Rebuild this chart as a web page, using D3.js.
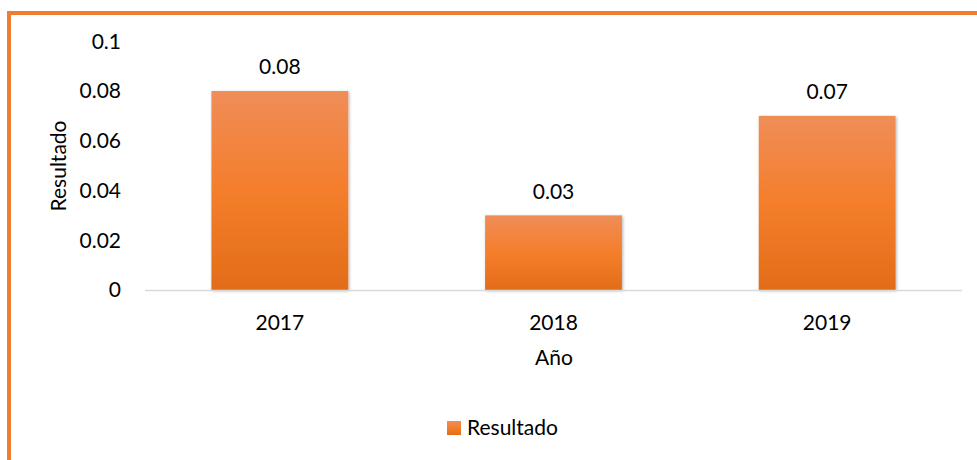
<!DOCTYPE html>
<html><head><meta charset="utf-8">
<script src="https://cdn.jsdelivr.net/npm/d3@7"></script>
<style>body{margin:0;background:#fff}text{font-family:Lato,"Open Sans",sans-serif;fill:#000}</style>
</head><body>
<svg id="c" width="977" height="460"></svg>
<script>
const categories = ["2017","2018","2019"];
const values = [0.08,0.03,0.07];
const yTicks = [0,0.02,0.04,0.06,0.08,0.1];
const yTickLabels = ["0","0.02","0.04","0.06","0.08","0.1"];
const seriesName = "Resultado";
const xTitle = "Año";
const yTitle = "Resultado";

const FS = 21;
const svg = d3.select("#c");
const defs = svg.append("defs");
const g1 = defs.append("linearGradient").attr("id","bg").attr("x1",0).attr("x2",0).attr("y1",0).attr("y2",1);
g1.append("stop").attr("offset","0%").attr("stop-color","#F08D58");
g1.append("stop").attr("offset","50%").attr("stop-color","#F47E2B");
g1.append("stop").attr("offset","100%").attr("stop-color","#E36C19");
const f = defs.append("filter").attr("id","sh").attr("x","-10%").attr("y","-10%").attr("width","120%").attr("height","120%");
f.append("feDropShadow").attr("dx",1).attr("dy",1).attr("stdDeviation",1.5).attr("flood-color","#000").attr("flood-opacity",0.3);

// frame
svg.append("rect").attr("x",9).attr("y",13).attr("width",990).attr("height",470)
  .attr("fill","none").attr("stroke","#ED7D31").attr("stroke-width",4);

const x = d3.scaleBand().domain(categories).range([143,964]).paddingInner(0.5).paddingOuter(0.25);
const y = d3.scaleLinear().domain([0,0.1]).range([290,41.25]);

svg.selectAll("rect.bar").data(values).join("rect").attr("class","bar")
  .attr("x",(d,i)=>x(categories[i])).attr("width",x.bandwidth())
  .attr("y",d=>y(d)).attr("height",d=>y(0)-y(d))
  .attr("fill","url(#bg)").attr("filter","url(#sh)");

svg.append("line").attr("x1",145).attr("x2",962).attr("y1",y(0)+0.5).attr("y2",y(0)+0.5)
  .attr("stroke","#D9D9D9").attr("stroke-width",1.5);

svg.selectAll("text.yt").data(yTicks).join("text").attr("class","yt")
  .attr("x",121).attr("y",d=>y(d)).attr("dy","0.35em").attr("text-anchor","end")
  .attr("font-size",FS).text((d,i)=>yTickLabels[i]);

svg.selectAll("text.xt").data(categories).join("text").attr("class","xt")
  .attr("x",d=>x(d)+x.bandwidth()/2).attr("y",323).attr("dy","0.35em").attr("text-anchor","middle")
  .attr("font-size",FS).text(d=>d);

svg.selectAll("text.vl").data(values).join("text").attr("class","vl")
  .attr("x",(d,i)=>x(categories[i])+x.bandwidth()/2).attr("y",d=>y(d)-24).attr("dy","0.35em").attr("text-anchor","middle")
  .attr("font-size",FS).text(d=>d.toFixed(2));

svg.append("text").attr("x",554).attr("y",358).attr("dy","0.35em").attr("text-anchor","middle")
  .attr("font-size",FS).text(xTitle);
svg.append("text").attr("transform","translate(59,166) rotate(-90)").attr("dy","0.35em").attr("text-anchor","middle")
  .attr("font-size",FS).text(yTitle);

svg.append("rect").attr("x",447).attr("y",421).attr("width",14).attr("height",14).attr("fill","url(#bg)");
svg.append("text").attr("x",467).attr("y",428).attr("dy","0.35em").attr("font-size",FS).text(seriesName);
</script>
</body></html>
